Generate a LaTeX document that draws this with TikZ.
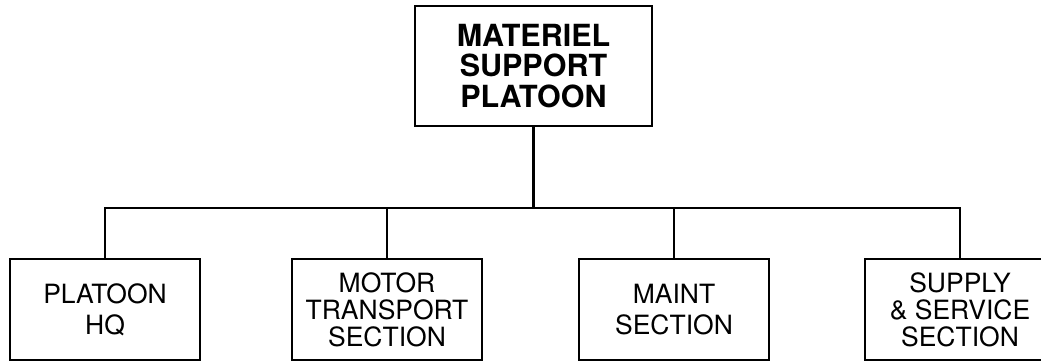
\documentclass[tikz,border=0pt]{standalone}
\usepackage{fontspec}
\setmainfont{TeX Gyre Heros}
\usetikzlibrary{positioning}

\begin{document}
\begin{tikzpicture}[
    x=1pt, y=-1pt,
    head/.style={
        rectangle, draw, line width=2.6pt, minimum width=237pt,
        minimum height=120pt, align=center,
        font=\fontsize{30.5}{30.5}\selectfont\bfseries
    },
    unit/.style={
        rectangle, draw, line width=2.6pt, minimum width=190pt,
        minimum height=101pt, align=center,
        font=\fontsize{26.5}{27}\selectfont
    },
    link/.style={line width=2.2pt}
]
\clip (0,0) rectangle (1041,362);

%% Platoon
\node (plt) [head] at (533.5,66) {MATERIEL\\SUPPORT\\PLATOON};

%% Sections
\node (hq)  [unit] at (105,309.5) {PLATOON\\[4pt]HQ};
\node (mtr) [unit] at (387,309.5) {MOTOR\\TRANSPORT\\SECTION};
\node (mnt) [unit] at (674,309.5) {MAINT\\[4pt]SECTION};
\node (sup) [unit] at (960,309.5) {SUPPLY\\\& SERVICE\\SECTION};

%% Lines
\coordinate (bus) at (533.5,208);
\draw [link] (plt.south) -- (bus);
\draw [link] (hq.north)  |- (bus);
\draw [link] (sup.north) |- (bus);
\draw [link] (mtr.north) -- (mtr.north |- bus);
\draw [link] (mnt.north) -- (mnt.north |- bus);

\end{tikzpicture}
\end{document}
